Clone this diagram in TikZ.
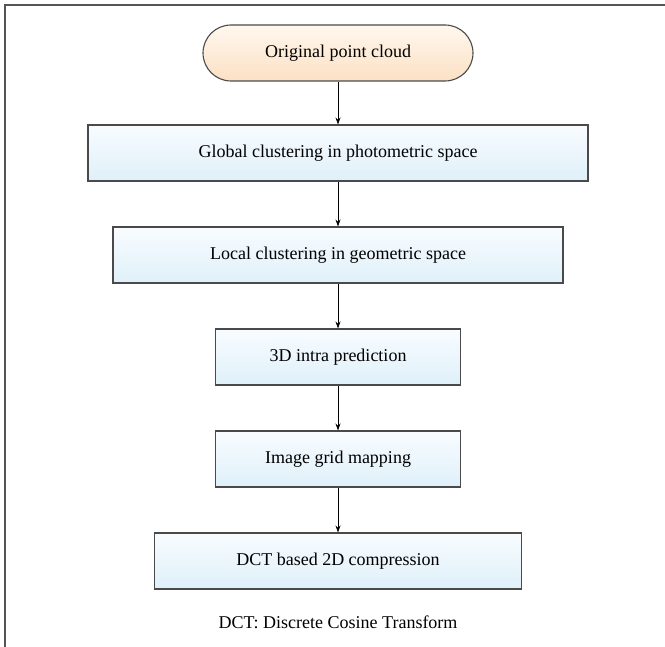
\documentclass[tikz,border=0pt]{standalone}
\usepackage{fontspec}
\setmainfont{Liberation Serif}
\usetikzlibrary{arrows.meta}
\definecolor{framegray}{HTML}{555555}
\definecolor{peachtop}{HTML}{FFF8EE}
\definecolor{peachbot}{HTML}{FCE0C4}
\definecolor{bluetop}{HTML}{F8FCFF}
\definecolor{bluebot}{HTML}{DFF0F9}
\definecolor{edgegray}{HTML}{4A4A4A}
\tikzset{
  base/.style={draw=edgegray, line width=1.1pt, minimum height=56pt, inner sep=0pt,
    font=\fontsize{18pt}{20pt}\selectfont, align=center},
  startbox/.style={base, rounded corners=28pt, minimum width=270pt,
    top color=peachtop, bottom color=peachbot},
  procbox/.style={base, top color=bluetop, bottom color=bluebot},
  flow/.style={draw=black, line width=0.8pt, -{Stealth[length=7pt,width=5pt]}},
  framestyle/.style={draw=framegray, line width=1.5pt},
  caption/.style={font=\fontsize{18pt}{20pt}\selectfont, inner sep=0pt}
}
\begin{document}
\begin{tikzpicture}[x=1pt,y=1pt]
\useasboundingbox (0,0) rectangle (665,-647);
\draw[framestyle] (665,-5) -- (5,-5) -- (5,-647);
\node[startbox] (n0) at (338,-53) {Original point cloud};
\node[procbox, minimum width=500pt] (n1) at (338,-153) {Global clustering in photometric space};
\node[procbox, minimum width=450pt] (n2) at (338,-255) {Local clustering in geometric space};
\node[procbox, minimum width=245pt] (n3) at (338,-357) {3D intra prediction};
\node[procbox, minimum width=245pt] (n4) at (338,-459) {Image grid mapping};
\node[procbox, minimum width=367pt] (n5) at (338,-561) {DCT based 2D compression};
\node[caption] (cap) at (338,-622) {DCT: Discrete Cosine Transform};
\draw[flow] (n0) -- (n1);
\draw[flow] (n1) -- (n2);
\draw[flow] (n2) -- (n3);
\draw[flow] (n3) -- (n4);
\draw[flow] (n4) -- (n5);
\end{tikzpicture}
\end{document}
